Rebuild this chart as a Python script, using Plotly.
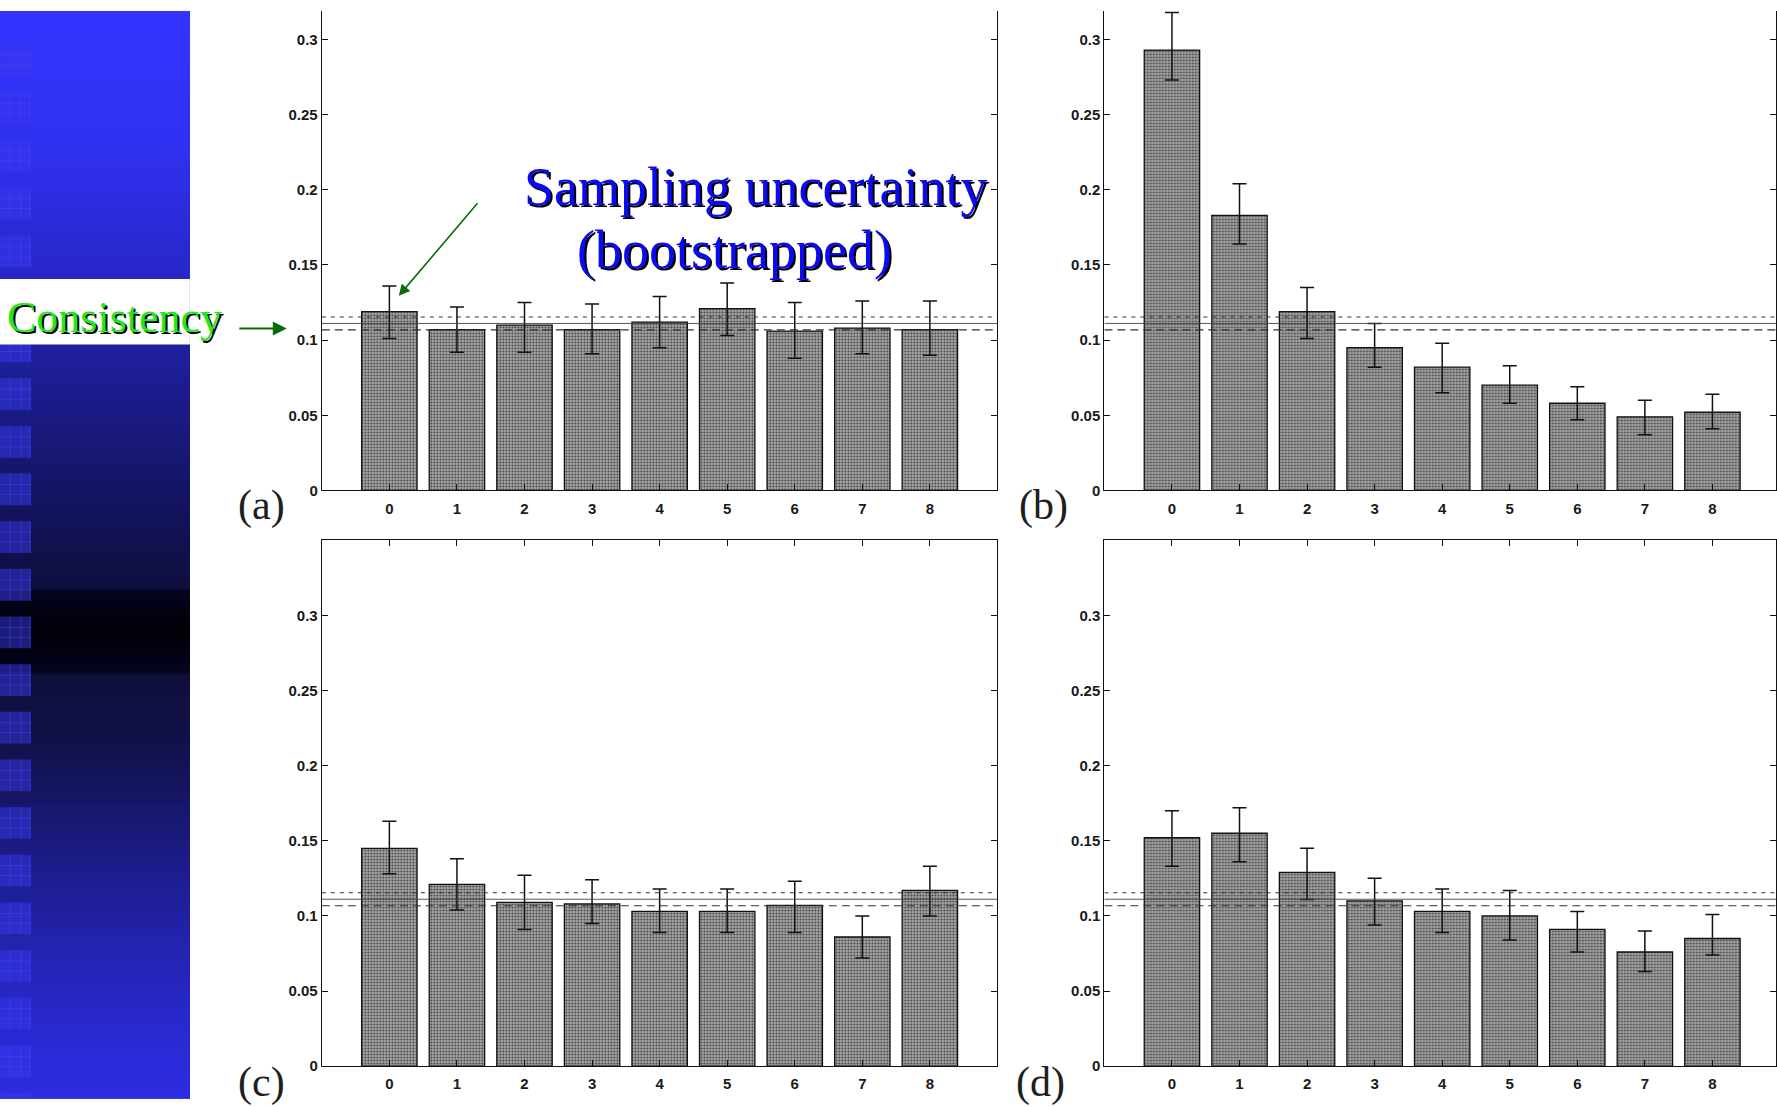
import plotly.graph_objects as go

W, H = 1777, 1107

# ---------------- data ----------------
ranks = [0, 1, 2, 3, 4, 5, 6, 7, 8]
rank_labels = ["0", "1", "2", "3", "4", "5", "6", "7", "8"]

freq_a = [0.119, 0.107, 0.110, 0.107, 0.112, 0.121, 0.106, 0.108, 0.107]
hi_a = [0.136, 0.122, 0.125, 0.124, 0.129, 0.138, 0.125, 0.126, 0.126]
lo_a = [0.101, 0.092, 0.092, 0.091, 0.095, 0.103, 0.088, 0.091, 0.090]

freq_b = [0.293, 0.183, 0.119, 0.095, 0.082, 0.070, 0.058, 0.049, 0.052]
hi_b = [0.318, 0.204, 0.135, 0.111, 0.098, 0.083, 0.069, 0.060, 0.064]
lo_b = [0.273, 0.164, 0.101, 0.082, 0.065, 0.058, 0.047, 0.037, 0.041]

freq_c = [0.145, 0.121, 0.109, 0.108, 0.103, 0.103, 0.107, 0.086, 0.117]
hi_c = [0.163, 0.138, 0.127, 0.124, 0.118, 0.118, 0.123, 0.100, 0.133]
lo_c = [0.128, 0.104, 0.091, 0.095, 0.089, 0.089, 0.089, 0.072, 0.100]

freq_d = [0.152, 0.155, 0.129, 0.110, 0.103, 0.100, 0.091, 0.076, 0.085]
hi_d = [0.170, 0.172, 0.145, 0.125, 0.118, 0.117, 0.103, 0.090, 0.101]
lo_d = [0.133, 0.136, 0.111, 0.094, 0.089, 0.084, 0.076, 0.063, 0.074]

expected_freq = 0.1111      # 1/9, flat histogram
band_upper = 0.1154
band_lower = 0.1068

y_tick_vals = [0, 0.05, 0.1, 0.15, 0.2, 0.25, 0.3]
y_tick_text = ["0", "0.05", "0.1", "0.15", "0.2", "0.25", "0.3"]

panel_names = ["(a)", "(b)", "(c)", "(d)"]


# ---------------- helpers ----------------
def px(x):
    return x / W


def py(y):
    return 1 - y / H


fig = go.Figure()

panels = [
    (freq_a, hi_a, lo_a, "x", "y"),
    (freq_b, hi_b, lo_b, "x2", "y2"),
    (freq_c, hi_c, lo_c, "x3", "y3"),
    (freq_d, hi_d, lo_d, "x4", "y4"),
]

for freq, hi, lo, xa, ya in panels:
    plus = [h - f for h, f in zip(hi, freq)]
    minus = [f - l for f, l in zip(freq, lo)]
    fig.add_trace(go.Bar(
        x=ranks, y=freq, width=0.82, xaxis=xa, yaxis=ya,
        marker=dict(
            color="#969696",
            line=dict(color="#111111", width=1.3),
            pattern=dict(shape=".", fgcolor="#3a3a3a", bgcolor="#a6a6a6",
                         size=3, solidity=0.3, fillmode="replace"),
        ),
        error_y=dict(type="data", symmetric=False, array=plus, arrayminus=minus,
                     color="#111111", thickness=1.5, width=7),
        showlegend=False, hoverinfo="skip",
    ))
    xs = [-1, 9]
    fig.add_trace(go.Scatter(x=xs, y=[band_upper] * 2, mode="lines", xaxis=xa, yaxis=ya,
                             line=dict(color="#333333", width=1.1, dash="4px,5px"),
                             showlegend=False, hoverinfo="skip"))
    fig.add_trace(go.Scatter(x=xs, y=[expected_freq] * 2, mode="lines", xaxis=xa, yaxis=ya,
                             line=dict(color="#444444", width=0.9),
                             showlegend=False, hoverinfo="skip"))
    fig.add_trace(go.Scatter(x=xs, y=[band_lower] * 2, mode="lines", xaxis=xa, yaxis=ya,
                             line=dict(color="#333333", width=1.1, dash="8px,5px"),
                             showlegend=False, hoverinfo="skip"))

# ---------------- decorative slide background (left blue panel) ----------------
stops = [
    (11, "#3434ff"), (150, "#3030f0"), (280, "#2727c8"), (350, "#1f1fa0"),
    (420, "#1a1a82"), (500, "#141462"), (560, "#10104a"), (592, "#0f0f3e"),
    (595, "#04041f"), (636, "#000006"), (677, "#04041f"), (680, "#0f0f3a"),
    (760, "#12124e"), (850, "#1a1a80"), (950, "#2323ae"), (1050, "#2a2ad4"),
    (1107, "#2d2de2"),
]
cscale = [[(yv - 11) / (1107 - 11), c] for yv, c in stops]
y_edges = list(range(11, 1108, 2))
z_rows = [[(y_edges[i] + y_edges[i + 1]) / 2] for i in range(len(y_edges) - 1)]
fig.add_trace(go.Heatmap(
    x=[0, 190], y=y_edges, z=z_rows, colorscale=cscale, zmin=11, zmax=1107,
    showscale=False, hoverinfo="skip", xaxis="x5", yaxis="y5",
))

shapes = []
# small chequered squares down the left edge
grid_path = ""
for k in range(23):
    top = 45 + 48 * k
    bot = min(top + 32, 1107)
    if top >= 1107:
        break
    shapes.append(dict(type="rect", xref="x5", yref="y5", x0=0, x1=31, y0=top, y1=bot,
                       fillcolor="rgba(55,55,235,0.5)", line=dict(width=0), layer="above"))
    for gx in (10, 21, 30):
        grid_path += f"M{gx},{top} L{gx},{bot} "
    for gy in (11, 21):
        if top + gy < bot:
            grid_path += f"M0,{top + gy} L31,{top + gy} "
shapes.append(dict(type="path", xref="x5", yref="y5", path=grid_path,
                   line=dict(color="rgba(75,75,255,0.4)", width=1), layer="above"))
# white band behind "Consistency"
shapes.append(dict(type="rect", xref="x5", yref="y5", x0=0, x1=190, y0=281, y1=347,
                   fillcolor="white", line=dict(width=0), layer="above"))

# ---------------- axes ----------------
tick_font = dict(family="Liberation Sans, Arial, sans-serif", size=15, color="#1a1a1a", weight="bold")
unit_px = (998 - 322) / 10.0
right_max = -1 + (W - 1105) / unit_px

x_dom_left = [px(322), px(998)]
x_dom_right = [px(1105), 1.0]
y_dom_top = [py(494), py(11)]
y_dom_bot = [py(1074), py(544)]
y_top_range = [0, (494 - 11) / 1514.0]
y_bot_range = [0, (1074 - 544) / 1514.0]

common_x = dict(tickmode="array", tickvals=ranks, ticktext=rank_labels, ticks="inside",
                ticklen=6, tickcolor="#111", showline=True, linecolor="#111", linewidth=1.2,
                showgrid=False, zeroline=False, tickfont=tick_font, fixedrange=True,
                ticklabelstandoff=4)
common_y = dict(tickmode="array", tickvals=y_tick_vals, ticktext=y_tick_text, ticks="inside",
                ticklen=6, tickcolor="#111", showline=True, linecolor="#111", linewidth=1.2,
                showgrid=False, zeroline=False, tickfont=tick_font, mirror="ticks",
                fixedrange=True)

layout_axes = dict(
    xaxis=dict(common_x, domain=x_dom_left, range=[-1, 9], anchor="y", mirror=False),
    yaxis=dict(common_y, domain=y_dom_top, range=y_top_range, anchor="x"),
    xaxis2=dict(common_x, domain=x_dom_right, range=[-1, right_max], anchor="y2", mirror=False),
    yaxis2=dict(common_y, domain=y_dom_top, range=y_top_range, anchor="x2"),
    xaxis3=dict(common_x, domain=x_dom_left, range=[-1, 9], anchor="y3", mirror="ticks"),
    yaxis3=dict(common_y, domain=y_dom_bot, range=y_bot_range, anchor="x3"),
    xaxis4=dict(common_x, domain=x_dom_right, range=[-1, right_max], anchor="y4", mirror="ticks"),
    yaxis4=dict(common_y, domain=y_dom_bot, range=y_bot_range, anchor="x4"),
    xaxis5=dict(domain=[0, px(190)], range=[0, 190], visible=False, fixedrange=True, anchor="y5"),
    yaxis5=dict(domain=[0, py(11)], range=[1107, 11], visible=False, fixedrange=True, anchor="x5"),
)

# ---------------- annotations ----------------
serif = "Liberation Serif, Times New Roman, serif"
ann = []


def shadow_text(text, x, y, size, color, off=2):
    ann.append(dict(text=text, x=px(x + off), y=py(y + off), xref="paper", yref="paper",
                    showarrow=False, xanchor="center", yanchor="middle",
                    font=dict(family=serif, size=size, color="#000000")))
    ann.append(dict(text=text, x=px(x), y=py(y), xref="paper", yref="paper",
                    showarrow=False, xanchor="center", yanchor="middle",
                    font=dict(family=serif, size=size, color=color)))


shadow_text("Sampling uncertainty", 756, 188, 54, "#0b0bf2")
shadow_text("(bootstrapped)", 735, 252, 54, "#0b0bf2")
shadow_text("Consistency", 115, 320, 44, "#1fe81f", off=1.5)

# arrows
ann.append(dict(text="", x=px(287), y=py(331), xref="paper", yref="paper",
                ax=-49, ay=0, showarrow=True, arrowhead=2, arrowsize=1.4, arrowwidth=2,
                arrowcolor="#0b6b0b", standoff=0))
ann.append(dict(text="", x=px(399), y=py(298), xref="paper", yref="paper",
                ax=80, ay=-94, showarrow=True, arrowhead=2, arrowsize=1.4, arrowwidth=1.6,
                arrowcolor="#0b6b0b", standoff=0))

label_pos = [(262, 509), (1044, 509), (262, 1090), (1041, 1090)]
for name, (lx, ly) in zip(panel_names, label_pos):
    ann.append(dict(text=name, x=px(lx), y=py(ly), xref="paper", yref="paper",
                    showarrow=False, xanchor="center", yanchor="middle",
                    font=dict(family=serif, size=42, color="#1e1e1e")))

fig.update_layout(
    width=W, height=H, margin=dict(l=0, r=0, t=0, b=0),
    paper_bgcolor="white", plot_bgcolor="white",
    barmode="overlay", showlegend=False,
    shapes=shapes, annotations=ann,
    **layout_axes,
)

fig.write_html("out.html")
